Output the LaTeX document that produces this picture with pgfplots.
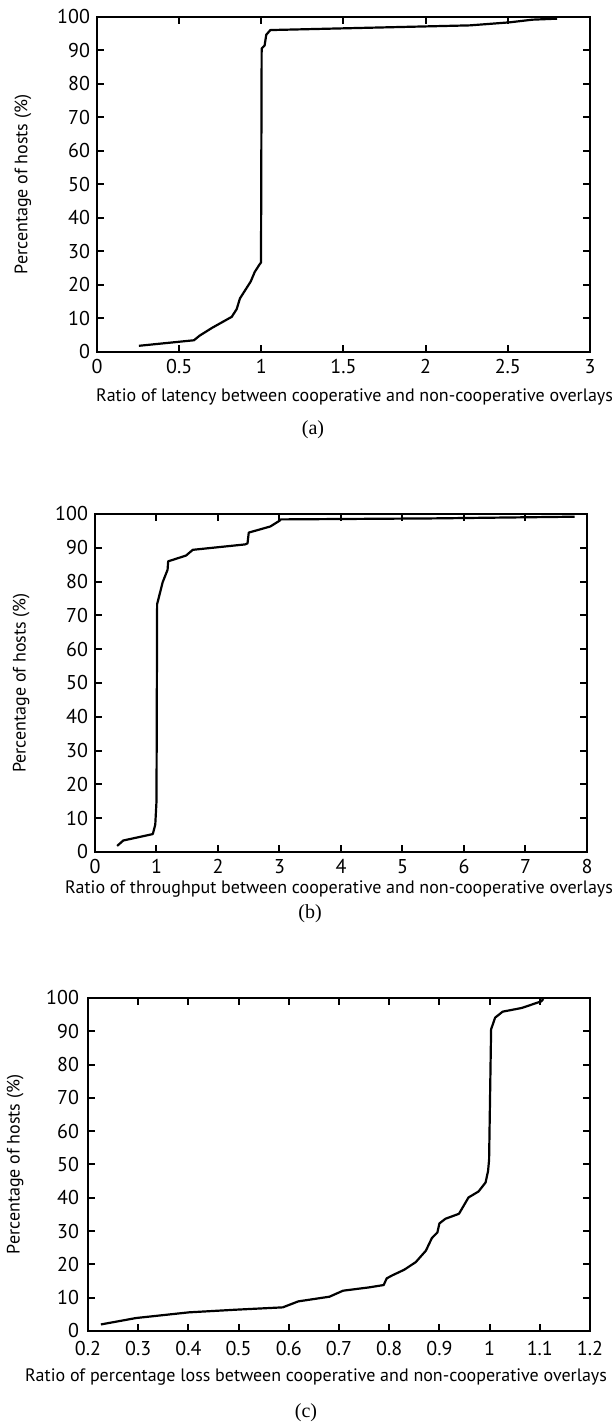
\documentclass[border=0pt]{standalone}
\usepackage{fontspec}
\setmainfont{PT Sans}
\newfontfamily\capfont{Liberation Serif}
\usepackage{pgfplots}
\pgfplotsset{compat=1.18}
\pgfplotsset{
  cdfstyle/.style={
    scale only axis,
    ymin=0, ymax=100,
    ytick={0,10,...,100},
    tick pos=both,
    tick align=inside,
    major tick length=3.5pt,
    minor tick num=0,
    axis line style={line width=1pt},
    every tick/.style={black, line width=1pt},
    /pgf/number format/assume math mode=true,
    tick label style={font=\fontsize{10}{11}\selectfont},
    label style={font=\fontsize{9}{10}\selectfont},
    ylabel={Percentage of hosts (\%)},
  }
}
\begin{document}
\begin{tikzpicture}
\useasboundingbox (0pt,0pt) rectangle (307pt,713pt);
% ---------------- (a) ----------------
\begin{axis}[cdfstyle,
  at={(48.5pt,537pt)}, anchor=south west,
  width=246.5pt, height=167.5pt,
  xmin=0, xmax=3,
  xtick={0,0.5,...,3},
  xlabel={Ratio of latency between cooperative and non-cooperative overlays},
  xlabel style={at={(axis description cs:1,0)}, anchor=base east, xshift=15pt, yshift=-25pt},
  ylabel style={at={(axis description cs:-0.15,0.5)}, anchor=center},
]
\addplot[black, line width=1.1pt, line join=round] coordinates {
(0.255,1.85) (0.59,3.5) (0.625,4.9) (0.70,7.2) (0.82,10.5) (0.85,12.8)
(0.87,16) (0.935,21) (0.96,23.9) (0.99,26.2) (0.998,26.7) (1.002,90.6)
(1.02,91.5) (1.03,94.7) (1.055,96.1) (2.27,97.5) (2.51,98.4) (2.65,99.2) (2.8,99.5)
};
\end{axis}
\node[font=\capfont\fontsize{10}{11}\selectfont] at (156.5pt,498pt) {(a)};
% ---------------- (b) ----------------
\begin{axis}[cdfstyle,
  at={(47.5pt,287pt)}, anchor=south west,
  width=246pt, height=169pt,
  xmin=0, xmax=8,
  xtick={0,1,...,8},
  xlabel={Ratio of throughput between cooperative and non-cooperative overlays},
  xlabel style={at={(axis description cs:1,0)}, anchor=base east, xshift=16.5pt, yshift=-21pt},
  ylabel style={at={(axis description cs:-0.15,0.5)}, anchor=center},
]
\addplot[black, line width=1.1pt, line join=round] coordinates {
(0.36,1.8) (0.46,3.4) (0.94,5.3) (0.98,8.1) (1.0,15) (1.01,73.3)
(1.10,79.8) (1.18,83.5) (1.19,86) (1.48,87.7) (1.59,89.4) (2.44,91)
(2.48,91.3) (2.5,94.5) (2.85,96.3) (3.0,98) (3.02,98.4) (5.5,98.7) (7.8,99.2)
};
\end{axis}
\node[font=\capfont\fontsize{10}{11}\selectfont] at (155pt,256pt) {(b)};
% ---------------- (c) ----------------
\begin{axis}[cdfstyle,
  at={(44pt,47.5pt)}, anchor=south west,
  width=251pt, height=166.5pt,
  xmin=0.2, xmax=1.2,
  xtick={0.2,0.3,0.4,0.5,0.6,0.7,0.8,0.9,1,1.1,1.2},
  xticklabel style={yshift=-1.5pt},
  yticklabel style={xshift=-1pt},
  xlabel={Ratio of percentage loss between cooperative and non-cooperative overlays},
  xlabel style={at={(axis description cs:1,0)}, anchor=base east, xshift=12pt, yshift=-25.5pt},
  ylabel style={at={(axis description cs:-0.145,0.5)}, anchor=center},
]
\addplot[black, line width=1.1pt, line join=round] coordinates {
(0.2257,1.97) (0.296,3.9) (0.401,5.6) (0.495,6.4) (0.588,7.1) (0.619,8.9)
(0.650,9.6) (0.681,10.3) (0.708,12.1) (0.760,13.1) (0.789,13.8) (0.795,15.8)
(0.806,16.7) (0.830,18.4) (0.853,20.7) (0.873,24.1) (0.885,27.9) (0.896,29.6)
(0.900,32.3) (0.912,33.7) (0.939,35.2) (0.958,40.1) (0.978,41.9) (0.992,44.6)
(0.997,48.1) (0.999,51.5) (1.003,90.6) (1.011,94.1) (1.026,95.9) (1.064,97.0)
(1.103,99.0) (1.107,99.7)
};
\end{axis}
\node[font=\capfont\fontsize{10}{11}\selectfont] at (153pt,6.5pt) {(c)};
\end{tikzpicture}
\end{document}
